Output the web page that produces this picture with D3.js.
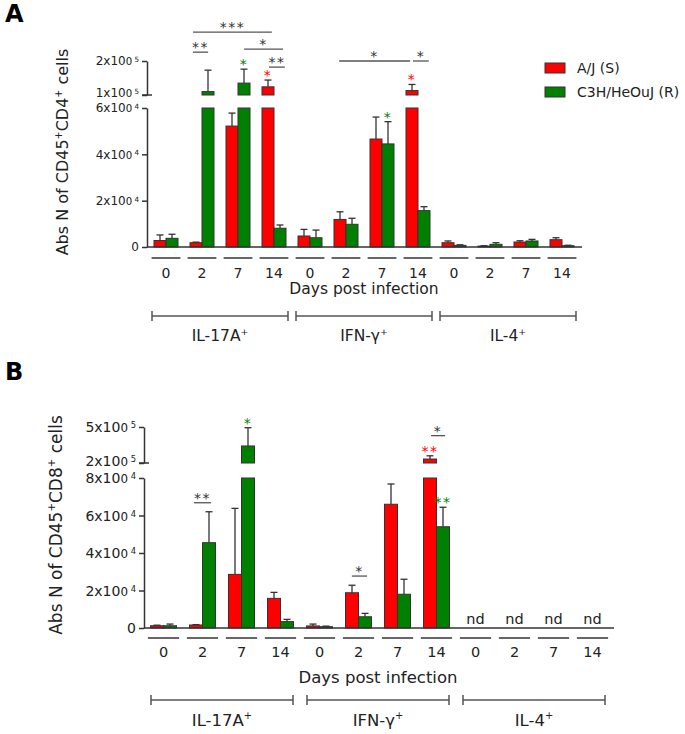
<!DOCTYPE html>
<html>
<head>
<meta charset="utf-8">
<script src="https://cdn.jsdelivr.net/npm/d3@7"></script>
<style>
  body { margin: 0; background: #fff; }
  text { font-family: "DejaVu Sans", Verdana, sans-serif; fill: #222; }
</style>
</head>
<body>
<div id="chart"></div>
<script>
// x axis groups
const cytokines = ["IL-17A", "IFN-γ", "IL-4"];
const days = ["0", "2", "7", "14"];
const strains = ["A/J (S)", "C3H/HeOuJ (R)"];

// Panel A - CD45+CD4+ cells, mean and SEM, order: cytokine x day
const cd4AJ     = [2800, 1850, 52200, 124000, 4750, 11900, 46600, 113000, 1850, 400, 2150, 3150];
const cd4AJErr  = [2400, 250, 5600, 20000, 2850, 3300, 9500, 18000, 750, 150, 550, 850];
const cd4C3H    = [3750, 110000, 135000, 8100, 4000, 9800, 44500, 15700, 700, 1150, 2600, 550];
const cd4C3HErr = [1750, 63000, 41000, 1400, 3300, 2600, 9600, 1700, 250, 700, 700, 200];
const cd4LowTicks = [0, 20000, 40000, 60000];
const cd4UpTicks = [100000, 200000];

// Panel B - CD45+CD8+ cells (IL-4 not detected)
const cd8AJ     = [1200, 1600, 28600, 15800, 1100, 18800, 66000, 233000, null, null, null, null];
const cd8AJErr  = [300, 200, 35200, 3200, 1000, 4000, 10800, 27000, null, null, null, null];
const cd8C3H    = [1200, 45500, 342000, 3400, 700, 6000, 18000, 54000, null, null, null, null];
const cd8C3HErr = [900, 16500, 152000, 1200, 300, 1800, 8000, 10400, null, null, null, null];
const cd8LowTicks = [0, 20000, 40000, 60000, 80000];
const cd8UpTicks = [200000, 500000];

// significance lines: [from, to] in group units, level, label
const cd4Sig = [
  [1.25, 3.44, 285000, "***"],
  [1.25, 1.67, 226000, "**"],
  [2.67, 3.75, 235000, "*"],
  [3.36, 3.8, 182000, "**"],
  [5.31, 7.28, 200000, "*"],
  [7.36, 7.8, 200000, "*"]
];
const cd8Sig = [
  [1.28, 1.72, 66800, "**"],
  [5.33, 5.72, 27700, "*"],
  [7.36, 7.72, 428000, "*"]
];
// stars over single bars vs day 0: [group, strain, label]
const cd4Stars = [[2, 1, "*"], [3, 0, "*"], [6, 1, "*"], [7, 0, "*"]];
const cd8Stars = [[2, 1, "*"], [7, 0, "**"], [7, 1, "**"]];
const cd8NotDetected = [8, 9, 10, 11];

const RED = "#ff0000", GREEN = "#008000", INK = "#333";

const svg = d3.select("#chart").append("svg")
  .attr("width", 685).attr("height", 734)
  .style("background", "#fff");

function drawPanel(p) {
  const groups = d3.range(cytokines.length * days.length);
  const x = d3.scaleBand().domain(groups).range([p.x0, p.x1]);
  const xs = d3.scaleBand().domain([0, 1]).range([0, x.bandwidth()]).paddingOuter(0.5);
  const yl = d3.scaleLinear().domain([0, p.lowMax]).range([p.y0, p.yLowTop]);
  const yu = d3.scaleLinear().domain([p.upMin, p.upMax]).range([p.yUpBottom, p.yUpTop]);
  const y = v => v <= p.lowMax ? yl(v) : yu(v);
  const pos = f => p.x0 + f * x.step();

  const g = svg.append("g");

  g.append("text").attr("x", 5).attr("y", p.letterY)
    .attr("font-size", 24).attr("font-weight", "bold")
    .style("fill", "#000").text(p.letter);

  // bars (split at the axis break)
  const series = [
    { vals: p.aj, err: p.ajErr, color: RED },
    { vals: p.c3h, err: p.c3hErr, color: GREEN }
  ];
  const bars = [];
  series.forEach((s, si) => s.vals.forEach((v, gi) => {
    if (v != null) bars.push({ gi, si, v, e: s.err[gi], color: s.color });
  }));
  const pieces = [];
  bars.forEach(b => {
    const bx = x(b.gi) + xs(b.si);
    if (b.v <= p.lowMax) {
      pieces.push({ x: bx, y1: yl(b.v), y2: yl(0), c: b.color });
    } else {
      pieces.push({ x: bx, y1: yl(p.lowMax), y2: yl(0), c: b.color });
      pieces.push({ x: bx, y1: yu(b.v), y2: yu(p.upMin), c: b.color });
    }
  });

  // error bars
  const eg = g.append("g").attr("stroke", INK).attr("stroke-width", 1.3);
  bars.forEach(b => {
    const cx = x(b.gi) + xs(b.si) + xs.bandwidth() / 2;
    eg.append("line").attr("x1", cx).attr("x2", cx).attr("y1", y(b.v)).attr("y2", y(b.v + b.e));
    eg.append("line").attr("x1", cx - 3.5).attr("x2", cx + 3.5).attr("y1", y(b.v + b.e)).attr("y2", y(b.v + b.e));
  });

  g.append("g").selectAll("rect").data(pieces).join("rect")
    .attr("x", d => d.x).attr("y", d => d.y1)
    .attr("width", xs.bandwidth()).attr("height", d => d.y2 - d.y1)
    .attr("fill", d => d.c).attr("stroke", INK).attr("stroke-width", 1);

  // y axis, two segments
  const axLow = g.append("g").attr("transform", `translate(${p.axisX},0)`)
    .call(d3.axisLeft(yl).tickValues(p.lowTicks).tickSize(5).tickSizeOuter(0).tickFormat(""));
  const axUp = g.append("g").attr("transform", `translate(${p.axisX},0)`)
    .call(d3.axisLeft(yu).tickValues(p.upTicks).tickSize(5).tickSizeOuter(0).tickFormat(""));
  [axLow, axUp].forEach(a => {
    a.selectAll("path,line").attr("stroke", INK).attr("stroke-width", 1.5);
  });
  g.append("line").attr("x1", p.axisX - 5).attr("x2", p.axisX + 5)
    .attr("y1", p.yUpBottom).attr("y2", p.yUpBottom)
    .attr("stroke", INK).attr("stroke-width", 1.5);

  const tickLabel = (v, shift) => {
    const t = g.append("text").attr("x", p.axisX - 8).attr("y", y(v) + p.tickFs * 0.36 + shift)
      .attr("text-anchor", "end").attr("font-size", p.tickFs);
    if (v === 0) { t.text("0"); return; }
    const e = Math.floor(Math.log10(v));
    t.append("tspan").text(`${Math.round(v / Math.pow(10, e))}x10`);
    t.append("tspan").attr("font-size", p.tickFs * 0.85).text("0");
    t.append("tspan").attr("font-size", p.tickFs * 0.6).attr("dy", -p.tickFs * 0.28).text(" " + e);
  };
  p.lowTicks.forEach(v => tickLabel(v, 0));
  p.upTicks.forEach((v, i) => tickLabel(v, i === 0 ? -2 : 0));

  // y title
  const tt = g.append("text")
    .attr("transform", `translate(${p.titleX},${p.titleY}) rotate(-90)`)
    .attr("text-anchor", "middle").attr("font-size", p.titleFs);
  const sup = s => tt.append("tspan").attr("dy", -p.titleFs * 0.4).attr("font-size", p.titleFs * 0.6).text(s);
  tt.append("tspan").text("Abs N of CD45");
  sup("+");
  tt.append("tspan").attr("dy", p.titleFs * 0.4).text(p.cellType);
  sup("+");
  tt.append("tspan").attr("dy", p.titleFs * 0.4).text(" cells");

  // x axis
  g.append("line").attr("x1", p.axisX).attr("x2", p.x1 + 2)
    .attr("y1", p.y0).attr("y2", p.y0).attr("stroke", INK).attr("stroke-width", 1.5);

  g.append("g").selectAll("line").data(groups).join("line")
    .attr("x1", d => x(d) + x.step() * 0.1).attr("x2", d => x(d) + x.step() * 0.9)
    .attr("y1", p.underlineY).attr("y2", p.underlineY)
    .attr("stroke", "#666").attr("stroke-width", 2);

  g.append("g").selectAll("text").data(groups).join("text")
    .attr("x", d => x(d) + x.step() / 2).attr("y", p.dayY)
    .attr("text-anchor", "middle").attr("font-size", p.dayFs)
    .text(d => days[d % days.length]);

  g.append("text").attr("x", (p.x0 + p.x1) / 2).attr("y", p.dayTitleY)
    .attr("text-anchor", "middle").attr("font-size", p.labelFs)
    .text("Days post infection");

  // cytokine brackets
  cytokines.forEach((c, ci) => {
    const a = x(ci * 4) + p.inset, b = x(ci * 4 + 3) + x.step() - p.inset;
    const bg = g.append("g").attr("stroke", "#555").attr("stroke-width", 1.5);
    bg.append("line").attr("x1", a).attr("x2", b).attr("y1", p.bracketY).attr("y2", p.bracketY);
    [a, b].forEach(e => bg.append("line").attr("x1", e).attr("x2", e)
      .attr("y1", p.bracketY - 5).attr("y2", p.bracketY + 5));
    const t = g.append("text").attr("x", (a + b) / 2).attr("y", p.cytoY)
      .attr("text-anchor", "middle").attr("font-size", p.labelFs);
    t.append("tspan").text(c);
    t.append("tspan").attr("dy", -p.labelFs * 0.4).attr("font-size", p.labelFs * 0.6).text("+");
  });

  // significance lines
  p.sig.forEach(s => {
    const ly = y(s[2]);
    g.append("line").attr("x1", pos(s[0])).attr("x2", pos(s[1]))
      .attr("y1", ly).attr("y2", ly).attr("stroke", "#555").attr("stroke-width", 1.3);
    g.append("text").attr("x", (pos(s[0]) + pos(s[1])) / 2).attr("y", ly)
      .attr("text-anchor", "middle").attr("font-size", 14).attr("letter-spacing", 1.5)
      .style("fill", "#333").text(s[3]);
  });

  p.stars.forEach(([gi, si, lab]) => {
    const s = series[si];
    const cx = x(gi) + xs(si) + xs.bandwidth() / 2;
    g.append("text").attr("x", cx).attr("y", y(s.vals[gi] + s.err[gi]))
      .attr("text-anchor", "middle").attr("font-size", 14).attr("letter-spacing", 1.5)
      .style("fill", s.color).text(lab);
  });

  p.nd.forEach(gi => {
    g.append("text").attr("x", x(gi) + x.step() / 2).attr("y", p.y0 - 4)
      .attr("text-anchor", "middle").attr("font-size", p.dayFs).text("nd");
  });

  if (p.legend) {
    const lg = g.append("g");
    strains.forEach((s, i) => {
      lg.append("rect").attr("x", 545).attr("y", 63 + i * 24).attr("width", 20).attr("height", 10)
        .attr("fill", i ? GREEN : RED).attr("stroke", INK);
      lg.append("text").attr("x", 577).attr("y", 73 + i * 24).attr("font-size", 14).text(s);
    });
  }
}

drawPanel({
  letter: "A", letterY: 22, legend: true, cellType: "CD4",
  x0: 148, x1: 580, axisX: 147,
  y0: 247, lowMax: 60000, yLowTop: 108,
  upMin: 100000, upMax: 200000, yUpBottom: 95, yUpTop: 61,
  lowTicks: cd4LowTicks, upTicks: cd4UpTicks,
  aj: cd4AJ, ajErr: cd4AJErr, c3h: cd4C3H, c3hErr: cd4C3HErr,
  sig: cd4Sig, stars: cd4Stars, nd: [],
  titleX: 68, titleY: 152, titleFs: 16, tickFs: 12,
  underlineY: 258, dayY: 278, dayFs: 14, dayTitleY: 294, labelFs: 15.5,
  bracketY: 316, cytoY: 341, inset: 4
});

drawPanel({
  letter: "B", letterY: 380, legend: false, cellType: "CD8",
  x0: 144, x1: 612, axisX: 144,
  y0: 628, lowMax: 80000, yLowTop: 478,
  upMin: 200000, upMax: 500000, yUpBottom: 463, yUpTop: 427,
  lowTicks: cd8LowTicks, upTicks: cd8UpTicks,
  aj: cd8AJ, ajErr: cd8AJErr, c3h: cd8C3H, c3hErr: cd8C3HErr,
  sig: cd8Sig, stars: cd8Stars, nd: cd8NotDetected,
  titleX: 62, titleY: 525, titleFs: 17, tickFs: 14,
  underlineY: 638, dayY: 657, dayFs: 14.5, dayTitleY: 683, labelFs: 16.5,
  bracketY: 700, cytoY: 726, inset: 7
});
</script>
</body>
</html>
